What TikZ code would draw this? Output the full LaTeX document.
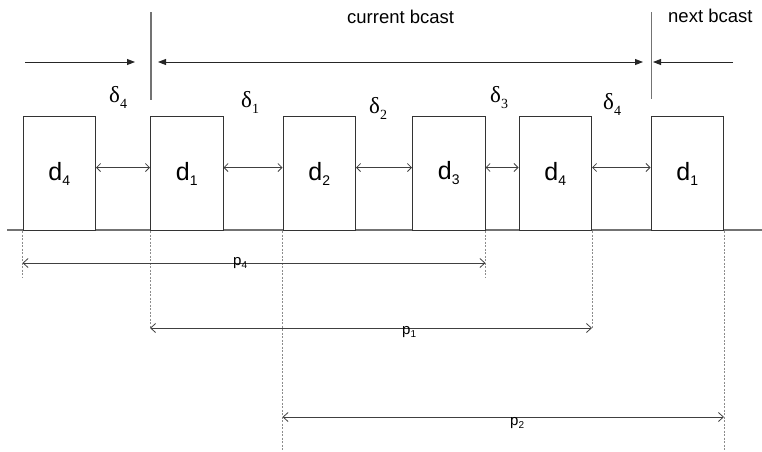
\documentclass[tikz,border=0pt]{standalone}
\usepackage{fontspec}
\setmainfont{Liberation Sans}
\newfontfamily\greekfont{Liberation Serif}
\usetikzlibrary{arrows.meta}
% slot labels: d_i, delta_i, p_i
\newcommand\dlab[1]{{\fontsize{25}{25}\selectfont d}\raisebox{-5pt}{\fontsize{14}{14}\selectfont #1}}
\newcommand\glab[1]{{\greekfont\fontsize{23}{23}\selectfont δ}\raisebox{-6pt}{\greekfont\fontsize{14}{14}\selectfont #1}}
\newcommand\plab[1]{{\fontsize{15}{15}\selectfont p}\raisebox{-3pt}{\fontsize{10}{10}\selectfont #1}}
\begin{document}
\begin{tikzpicture}[x=1pt,y=-1pt,
  slot/.style={draw=black!80,line width=1pt,fill=white,minimum width=72.5pt,
    minimum height=114pt,inner sep=0pt,anchor=north west},
  gaparrow/.style={draw=black!75,line width=0.8pt,
    {Straight Barb[length=4pt,width=8pt]}-{Straight Barb[length=4pt,width=8pt]}},
  period/.style={draw=black!75,line width=0.8pt,
    {Straight Barb[length=5pt,width=9pt]}-{Straight Barb[length=5pt,width=9pt]}},
  guide/.style={draw=black!45,line width=0.8pt,dash pattern=on 2pt off 1.5pt},
  bar/.style={draw=black!55,line width=1.2pt},
  span/.style={draw=black!85,line width=0.9pt},
  tipr/.style={-{Triangle[length=8pt,width=6pt]}},
  tipb/.style={{Triangle[length=8pt,width=6pt]}-{Triangle[length=8pt,width=6pt]}},
  lbl/.style={inner sep=0pt,anchor=base west},
  head/.style={inner sep=0pt,anchor=base west,font=\fontsize{18.5}{18.5}\selectfont}
]
\useasboundingbox (0,0) rectangle (762,451);

% time axis
\coordinate (axl) at (7,230);
\coordinate (axr) at (762,230);
\draw[draw=black!55,line width=1.2pt] (axl) -- (axr);

% broadcast slots
\node[slot] (b1) at (22.5,116) {\dlab{4}};
\node[slot] (b2) at (150,116) {\dlab{1}};
\node[slot] (b3) at (282.5,116) {\dlab{2}};
\node[slot] (b4) at (412,116) {\dlab{3}};
\node[slot] (b5) at (518.5,116) {\dlab{4}};
\node[slot] (b6) at (650.5,116) {\dlab{1}};

% gaps between slots
\draw[gaparrow] ([yshift=6pt]b1.east) -- ([yshift=6pt]b2.west);
\draw[gaparrow] ([yshift=6pt]b2.east) -- ([yshift=6pt]b3.west);
\draw[gaparrow] ([yshift=6pt]b3.east) -- ([yshift=6pt]b4.west);
\draw[gaparrow] ([yshift=6pt]b4.east) -- ([yshift=6pt]b5.west);
\draw[gaparrow] ([yshift=6pt]b5.east) -- ([yshift=6pt]b6.west);

% gap labels
\node[lbl] (g1) at (109,102) {\glab{4}};
\node[lbl] (g2) at (241,107) {\glab{1}};
\node[lbl] (g3) at (369,113) {\glab{2}};
\node[lbl] (g4) at (490,102) {\glab{3}};
\node[lbl] (g5) at (603,109) {\glab{4}};

% broadcast boundaries
\coordinate (bar1t) at (151,12);
\coordinate (bar1b) at (151,100);
\coordinate (bar2t) at (651.5,12);
\coordinate (bar2b) at (651.5,99);
\draw[bar] (bar1t) -- (bar1b);
\draw[bar] (bar2t) -- (bar2b);

% broadcast spans
\coordinate (s1a) at (25,62);
\coordinate (s1b) at (135,62);
\coordinate (s2a) at (158,62);
\coordinate (s2b) at (643,62);
\coordinate (s3a) at (733,62);
\coordinate (s3b) at (653,62);
\draw[span,tipr] (s1a) -- (s1b);
\draw[span,tipb] (s2a) -- (s2b);
\draw[span,tipr] (s3a) -- (s3b);
\node[head] (cur) at (347,23) {current bcast};
\node[head] (nxt) at (668,22) {next bcast};

% guide lines below the axis
\coordinate (r4) at (0,263);
\coordinate (r1) at (0,328);
\coordinate (r2) at (0,417);
\coordinate (e4) at (0,277);
\coordinate (e1) at (0,328);
\coordinate (e2) at (0,451);
\draw[guide] (b1.south west) -- (b1.south west |- e4);
\draw[guide] (b4.south east) -- (b4.south east |- e4);
\draw[guide] (b2.south west) -- (b2.south west |- e1);
\draw[guide] (b5.south east) -- (b5.south east |- e1);
\draw[guide] (b3.south west) -- (b3.south west |- e2);
\draw[guide] (b6.south east) -- (b6.south east |- e2);

% periods
\draw[period] (b1.south west |- r4) -- (b4.south east |- r4);
\draw[period] (b2.south west |- r1) -- (b5.south east |- r1);
\draw[period] (b3.south west |- r2) -- (b6.south east |- r2);
\node[lbl] (p4) at (233,265) {\plab{4}};
\node[lbl] (p1) at (402,334) {\plab{1}};
\node[lbl] (p2) at (510,425) {\plab{2}};
\end{tikzpicture}
\end{document}
